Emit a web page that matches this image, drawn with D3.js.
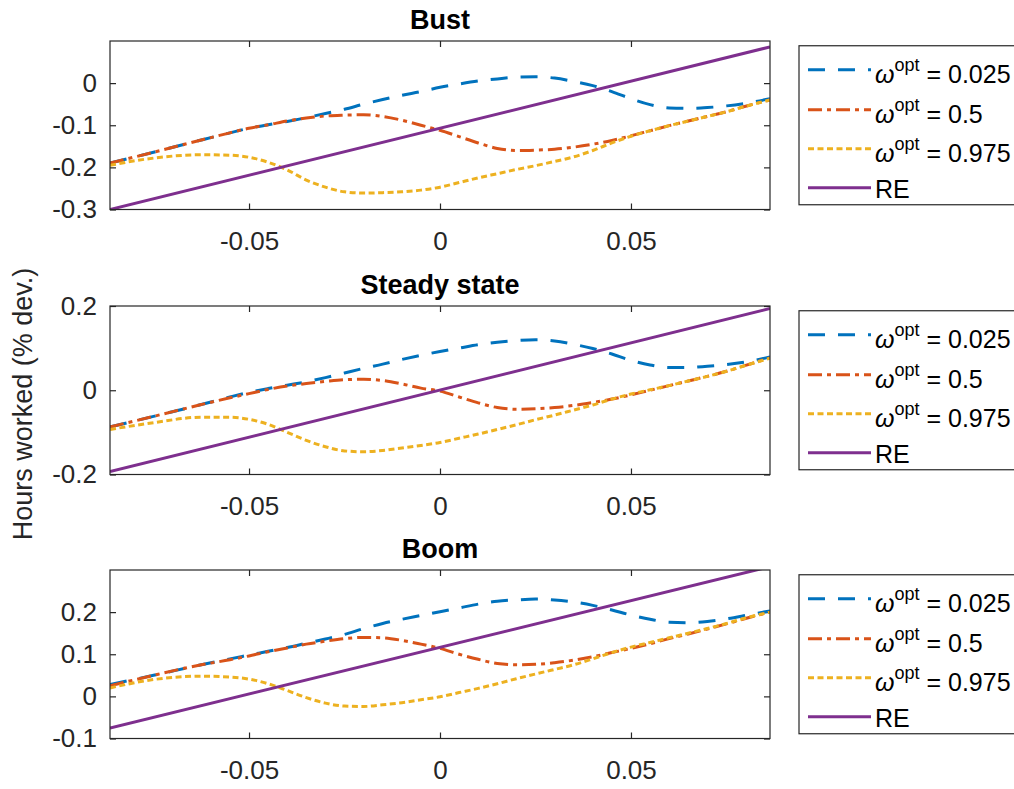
<!DOCTYPE html>
<html>
<head>
<meta charset="utf-8">
<script src="https://cdn.jsdelivr.net/npm/d3@7"></script>
<style>
body{margin:0;background:#fff}
text{font-family:"Liberation Sans",Arial,Helvetica,sans-serif}
</style>
</head>
<body>
<div id="chart"></div>
<script>
// x grid: shock size
const xs = [-0.0864, -0.075, -0.0625, -0.055, -0.05, -0.045, -0.04, -0.035, -0.03, -0.025, -0.02, -0.015, -0.01, -0.005,
    0, 0.005, 0.01, 0.015, 0.02, 0.025, 0.03, 0.035, 0.04, 0.045, 0.05, 0.055, 0.06, 0.065, 0.07, 0.075, 0.08, 0.0864]

// BUST
const bustW025 = [-0.190, -0.164, -0.135, -0.118, -0.107, -0.099, -0.091, -0.082, -0.072, -0.062, -0.050, -0.039, -0.029, -0.020,
    -0.010, -0.002, 0.005, 0.010, 0.014, 0.015, 0.012, 0.004, -0.006, -0.020, -0.037, -0.051, -0.059, -0.060, -0.058, -0.054, -0.048, -0.037]
const bustW05 = [-0.190, -0.164, -0.135, -0.118, -0.107, -0.099, -0.090, -0.083, -0.078, -0.076, -0.075, -0.079, -0.088, -0.100,
    -0.112, -0.127, -0.142, -0.155, -0.160, -0.159, -0.157, -0.152, -0.145, -0.136, -0.125, -0.113, -0.101, -0.090, -0.079, -0.068, -0.055, -0.040]
const bustW0975 = [-0.195, -0.178, -0.170, -0.171, -0.176, -0.188, -0.206, -0.230, -0.247, -0.258, -0.261, -0.260, -0.258, -0.254,
    -0.247, -0.236, -0.225, -0.215, -0.205, -0.196, -0.186, -0.175, -0.160, -0.142, -0.126, -0.113, -0.101, -0.090, -0.079, -0.068, -0.055, -0.040]

// STEADY STATE
const steadyW025 = [-0.087, -0.062, -0.034, -0.016, -0.005, 0.004, 0.012, 0.020, 0.030, 0.041, 0.052, 0.062, 0.073, 0.083,
    0.092, 0.100, 0.108, 0.114, 0.118, 0.120, 0.117, 0.109, 0.099, 0.086, 0.071, 0.060, 0.054, 0.054, 0.057, 0.061, 0.067, 0.079]
const steadyW05 = [-0.087, -0.062, -0.034, -0.018, -0.008, 0.002, 0.010, 0.016, 0.021, 0.025, 0.026, 0.023, 0.015, 0.005,
    -0.002, -0.016, -0.030, -0.041, -0.045, -0.044, -0.041, -0.036, -0.029, -0.021, -0.011, 0.000, 0.011, 0.022, 0.033, 0.045, 0.059, 0.077]
const steadyW0975 = [-0.093, -0.077, -0.064, -0.064, -0.069, -0.081, -0.100, -0.119, -0.134, -0.144, -0.146, -0.143, -0.137, -0.131,
    -0.124, -0.114, -0.104, -0.093, -0.082, -0.070, -0.059, -0.047, -0.035, -0.021, -0.009, 0.001, 0.011, 0.022, 0.033, 0.045, 0.059, 0.076]

// BOOM
const boomW025 = [0.028, 0.050, 0.075, 0.089, 0.098, 0.107, 0.116, 0.126, 0.136, 0.147, 0.161, 0.173, 0.183, 0.192,
    0.201, 0.210, 0.219, 0.226, 0.229, 0.231, 0.229, 0.224, 0.216, 0.205, 0.193, 0.183, 0.176, 0.175, 0.178, 0.184, 0.192, 0.203]
const boomW05 = [0.025, 0.050, 0.075, 0.087, 0.096, 0.106, 0.115, 0.124, 0.131, 0.137, 0.140, 0.139, 0.133, 0.124,
    0.114, 0.100, 0.088, 0.078, 0.075, 0.076, 0.080, 0.086, 0.094, 0.104, 0.114, 0.125, 0.137, 0.148, 0.160, 0.172, 0.185, 0.200]
const boomW0975 = [0.020, 0.040, 0.048, 0.046, 0.041, 0.030, 0.014, -0.003, -0.016, -0.023, -0.024, -0.020, -0.015, -0.008,
    -0.001, 0.009, 0.019, 0.030, 0.042, 0.053, 0.064, 0.075, 0.089, 0.104, 0.117, 0.128, 0.139, 0.150, 0.161, 0.173, 0.186, 0.200]

// RATIONAL EXPECTATIONS (straight line, two ends)
const reX = [-0.0864, 0.0864]
const bustRE = [-0.300, 0.086]
const steadyRE = [-0.193, 0.194]
const boomRE = [-0.075, 0.308]

const titles = ["Bust", "Steady state", "Boom"]
const yDomains = [[-0.3, 0.1], [-0.2, 0.2], [-0.1, 0.3]]
const yTicks = [[-0.3, -0.2, -0.1, 0], [-0.2, 0, 0.2], [-0.1, 0, 0.1, 0.2]]
const xTicks = [-0.05, 0, 0.05]
const legendLabels = ["0.025", "0.5", "0.975", "RE"]

const panels = [
    {series: [bustW025, bustW05, bustW0975], re: bustRE},
    {series: [steadyW025, steadyW05, steadyW0975], re: steadyRE},
    {series: [boomW025, boomW05, boomW0975], re: boomRE}
]

//STYLES
const colors = ["#0072BD", "#D95319", "#EDB120", "#7E2F8E"]
const dashes = ["17,13", "14,5,4,5", "6,3.5", null]
const axisColor = "#262626"

let width = 1014,
    height = 789,
    left = 110,
    right = 770,
    tops = [41, 306, 570],
    panelH = 168.5

let svg = d3.select("#chart").append("svg")
    .attr("width", width)
    .attr("height", height)
    .style("background", "#fff")

let x = d3.scaleLinear().domain([xs[0], xs[xs.length - 1]]).range([left, right])
let plain = d => String(d) // hyphen minus like the original

panels.forEach((p, i) => {
    let top = tops[i], bottom = top + panelH
    let y = d3.scaleLinear().domain(yDomains[i]).range([bottom, top])

    svg.append("clipPath").attr("id", "clip" + i)
        .append("rect").attr("x", left).attr("y", top).attr("width", right - left).attr("height", panelH)

    //AXES
    let gx = svg.append("g")
        .attr("transform", "translate(0," + bottom + ")")
        .call(d3.axisBottom(x).tickValues(xTicks).tickFormat(plain).tickSizeInner(-6).tickSizeOuter(0).tickPadding(22))
    let gxTop = svg.append("g")
        .attr("transform", "translate(0," + top + ")")
        .call(d3.axisTop(x).tickValues(xTicks).tickFormat("").tickSizeInner(-6).tickSizeOuter(0))
    let gy = svg.append("g")
        .attr("transform", "translate(" + left + ",0)")
        .call(d3.axisLeft(y).tickValues(yTicks[i]).tickFormat(plain).tickSizeInner(-6).tickSizeOuter(0).tickPadding(13))
    let gyRight = svg.append("g")
        .attr("transform", "translate(" + right + ",0)")
        .call(d3.axisRight(y).tickValues(yTicks[i]).tickFormat("").tickSizeInner(-6).tickSizeOuter(0))
    ;[gx, gxTop, gy, gyRight].forEach(g => {
        g.attr("color", axisColor)
            .attr("font-family", null)
            .attr("font-size", 26)
        g.selectAll(".tick line").attr("stroke-width", 1.2)
        g.select(".domain").remove()
    })
    gx.selectAll("text").attr("dy", "0.71em")

    //LINES
    let lines = svg.append("g").attr("clip-path", "url(#clip" + i + ")")
    let line = d3.line().x((d, k) => x(xs[k])).y(d => y(d)).curve(d3.curveMonotoneX)
    p.series.forEach((s, k) => {
        lines.append("path")
            .attr("d", line(s))
            .attr("fill", "none")
            .attr("stroke", colors[k])
            .attr("stroke-width", 3)
            .attr("stroke-dasharray", dashes[k])
    })
    lines.append("path")
        .attr("d", d3.line().x((d, k) => x(reX[k])).y(d => y(d))(p.re))
        .attr("fill", "none")
        .attr("stroke", colors[3])
        .attr("stroke-width", 3)

    //BOX
    svg.append("rect")
        .attr("x", left).attr("y", top)
        .attr("width", right - left).attr("height", panelH)
        .attr("fill", "none")
        .attr("stroke", axisColor)
        .attr("stroke-width", 1.2)

    //TITLE
    svg.append("text")
        .attr("x", (left + right) / 2)
        .attr("y", top - 12)
        .attr("text-anchor", "middle")
        .attr("font-size", 27)
        .attr("font-weight", "bold")
        .attr("fill", "#000")
        .text(titles[i])

    //LEGEND
    let boxH = 159
    let lg = svg.append("g").attr("transform", "translate(799," + (top + (panelH - boxH) / 2) + ")")
    lg.append("rect")
        .attr("width", 240).attr("height", boxH)
        .attr("fill", "#fff")
        .attr("stroke", axisColor)
        .attr("stroke-width", 1.2)
    let rowsY = [24, 64, 103, 142]
    legendLabels.forEach((lab, k) => {
        lg.append("line")
            .attr("x1", 9).attr("x2", 72)
            .attr("y1", rowsY[k]).attr("y2", rowsY[k])
            .attr("stroke", colors[k])
            .attr("stroke-width", 3)
            .attr("stroke-dasharray", dashes[k])
        let t = lg.append("text")
            .attr("x", 76)
            .attr("font-size", 25)
            .attr("fill", "#000")
        if (k < 3) {
            t.attr("y", rowsY[k] + 13)
            t.append("tspan").attr("font-style", "italic").text("ω")
            t.append("tspan").attr("font-size", 18).attr("dy", -12).text("opt")
            t.append("tspan").attr("dy", 12).text(" = " + lab)
        } else {
            t.attr("y", rowsY[k] + 10).text(lab)
        }
    })
})

//Y LABEL
svg.append("text")
    .attr("transform", "translate(23,404) rotate(-90)")
    .attr("text-anchor", "middle")
    .attr("dominant-baseline", "central")
    .attr("font-size", 27)
    .attr("fill", axisColor)
    .text("Hours worked (% dev.)")
</script>
</body>
</html>
